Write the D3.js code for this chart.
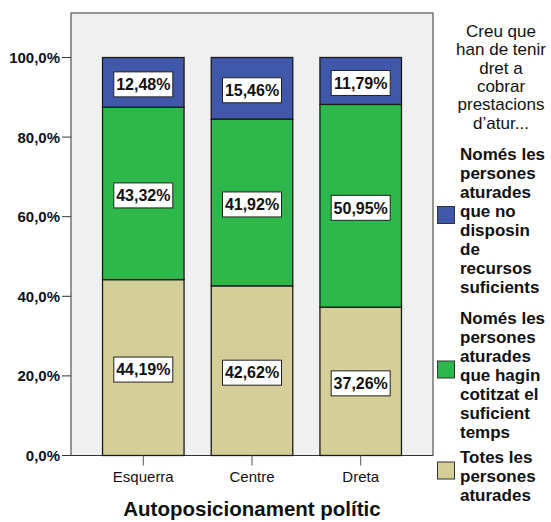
<!DOCTYPE html>
<html>
<head>
<meta charset="utf-8">
<script src="https://cdn.jsdelivr.net/npm/d3@7/dist/d3.min.js"></script>
<style>
  body { margin: 0; background: #fff; }
  svg { display: block; font-family: "Liberation Sans", Arial, sans-serif; }
</style>
</head>
<body>
<svg id="chart" width="551" height="522"></svg>
<script>
const categories = ['Esquerra', 'Centre', 'Dreta'];
const totes = [44.19, 42.62, 37.26];
const cotitzat = [43.32, 41.92, 50.95];
const recursos = [12.48, 15.46, 11.79];
const yTicks = [0, 20, 40, 60, 80, 100];

const seriesNames = [
    ['Només les', 'persones', 'aturades', 'que no', 'disposin', 'de', 'recursos', 'suficients'],
    ['Només les', 'persones', 'aturades', 'que hagin', 'cotitzat el', 'suficient', 'temps'],
    ['Totes les', 'persones', 'aturades']
];
const legendTitle = ['Creu que', 'han de tenir', 'dret a', 'cobrar', 'prestacions', 'd\u2019atur...'];
const colors = ['#3f58a9', '#2eb84b', '#d4cf98'];

const svg = d3.select('#chart');
const plot = { left: 71, top: 13, right: 433, bottom: 455.5 };

const x = d3.scaleBand()
    .domain(categories)
    .range([plot.left, plot.right])
    .paddingInner(0.25)
    .paddingOuter(0.29);

const y = d3.scaleLinear()
    .domain([0, 100])
    .range([plot.bottom, 57.5]);

// plot background
svg.append('rect')
    .attr('x', plot.left)
    .attr('y', plot.top)
    .attr('width', plot.right - plot.left)
    .attr('height', plot.bottom - plot.top)
    .attr('fill', '#f0f0f0')
    .attr('stroke', '#333')
    .attr('stroke-width', 1);

// stacked segments, bottom to top: totes, cotitzat, recursos
const rows = categories.map((c, i) => ({ cat: c, totes: totes[i], cotitzat: cotitzat[i], recursos: recursos[i] }));
const stack = d3.stack().keys(['totes', 'cotitzat', 'recursos']);
const layers = stack(rows);
const colorOf = { recursos: colors[0], cotitzat: colors[1], totes: colors[2] };

const layerG = svg.selectAll('.layer')
    .data(layers)
    .enter()
    .append('g')
    .classed('layer', true)
    .attr('fill', d => colorOf[d.key]);

layerG.selectAll('rect')
    .data(d => d)
    .enter()
    .append('rect')
    .attr('x', d => x(d.data.cat))
    .attr('y', d => y(d[1]))
    .attr('width', x.bandwidth())
    .attr('height', d => y(d[0]) - y(d[1]))
    .attr('stroke', '#1a1a1a')
    .attr('stroke-width', 1.3);

// value labels
const labels = svg.append('g');
layers.forEach(layer => {
    layer.forEach(d => {
        const cx = x(d.data.cat) + x.bandwidth() / 2;
        const cy = (y(d[0]) + y(d[1])) / 2 + 2;
        const g = labels.append('g').attr('transform', `translate(${cx},${cy})`);
        g.append('rect')
            .attr('x', -29.5)
            .attr('y', -12.5)
            .attr('width', 59)
            .attr('height', 25)
            .attr('fill', '#fff')
            .attr('stroke', '#222')
            .attr('stroke-width', 1);
        g.append('text')
            .attr('text-anchor', 'middle')
            .attr('y', 5.8)
            .attr('font-size', 16)
            .attr('font-weight', 'bold')
            .attr('fill', '#111')
            .text(d3.format('.2f')(d.data[layer.key]).replace('.', ',') + '%');
    });
});

// y axis
const yAxis = svg.append('g');
yAxis.selectAll('line')
    .data(yTicks)
    .enter()
    .append('line')
    .attr('x1', 62)
    .attr('x2', plot.left)
    .attr('y1', d => y(d))
    .attr('y2', d => y(d))
    .attr('stroke', '#333');
yAxis.selectAll('text')
    .data(yTicks)
    .enter()
    .append('text')
    .attr('x', 60)
    .attr('y', d => y(d) + 5.5)
    .attr('text-anchor', 'end')
    .attr('font-size', 15)
    .attr('font-weight', 'bold')
    .attr('fill', '#111')
    .text(d => d3.format('.1f')(d).replace('.', ',') + '%');

// x axis
const xAxis = svg.append('g');
xAxis.selectAll('line')
    .data(categories)
    .enter()
    .append('line')
    .attr('x1', d => x(d) + x.bandwidth() / 2)
    .attr('x2', d => x(d) + x.bandwidth() / 2)
    .attr('y1', plot.bottom)
    .attr('y2', 465.5)
    .attr('stroke', '#555');
xAxis.selectAll('text')
    .data(categories)
    .enter()
    .append('text')
    .attr('x', d => x(d) + x.bandwidth() / 2)
    .attr('y', 482)
    .attr('text-anchor', 'middle')
    .attr('font-size', 15)
    .attr('fill', '#111')
    .text(d => d);

svg.append('text')
    .attr('x', (plot.left + plot.right) / 2)
    .attr('y', 516)
    .attr('text-anchor', 'middle')
    .attr('font-size', 20.5)
    .attr('font-weight', 'bold')
    .attr('fill', '#111')
    .text('Autoposicionament polític');

// legend
const legend = svg.append('g');
legend.append('text')
    .attr('text-anchor', 'middle')
    .attr('font-size', 17)
    .attr('fill', '#111')
    .selectAll('tspan')
    .data(legendTitle)
    .enter()
    .append('tspan')
    .attr('x', 501)
    .attr('y', (d, i) => 37 + i * 18.3)
    .text(d => d);

const itemStart = [160, 324, 463];
const lineH = 19;
seriesNames.forEach((lines, i) => {
    const first = itemStart[i];
    const last = first + (lines.length - 1) * lineH;
    const mid = (first - 13 + last) / 2 - 5;
    legend.append('rect')
        .attr('x', 437.5)
        .attr('y', mid - 8.5)
        .attr('width', 17)
        .attr('height', 17)
        .attr('fill', colors[i])
        .attr('stroke', '#333')
        .attr('stroke-width', 1);
    legend.append('text')
        .attr('font-size', 17)
        .attr('font-weight', 'bold')
        .attr('fill', '#111')
        .selectAll('tspan')
        .data(lines)
        .enter()
        .append('tspan')
        .attr('x', 460)
        .attr('y', (d, j) => first + j * lineH)
        .text(d => d);
});
</script>
</body>
</html>
